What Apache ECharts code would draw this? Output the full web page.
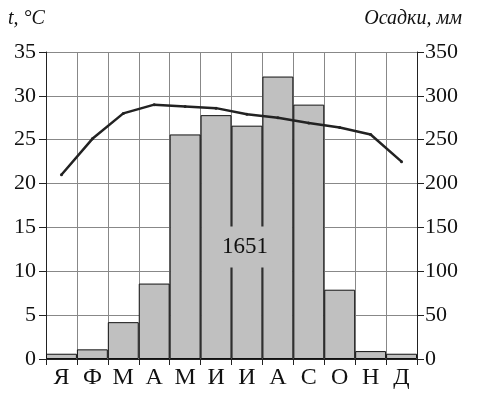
<!DOCTYPE html>
<html>
<head>
<meta charset="utf-8">
<script src="https://cdn.jsdelivr.net/npm/echarts@6/dist/echarts.min.js"></script>
<style>
html,body{margin:0;padding:0;background:#fff;}
#chart{width:478px;height:401px;}
</style>
</head>
<body>
<div id="chart"></div>
<script>
var months = ['Я','Ф','М','А','М','И','И','А','С','О','Н','Д'];
var temperature = [21.0, 25.1, 28.0, 29.0, 28.8, 28.6, 27.9, 27.5, 26.9, 26.4, 25.6, 22.5];
var precipitation = [6, 11, 42, 86, 256, 278, 266, 322, 290, 79, 9, 6];
var tempTitle = 't, °C';
var precTitle = 'Осадки, мм';
var total = precipitation.reduce(function(a,b){return a+b;},0);

var FONT = '"Liberation Serif", "Times New Roman", serif';
var chart = echarts.init(document.getElementById('chart'), null, {renderer:'canvas'});
chart.setOption({
  animation: false,
  backgroundColor: '#fff',
  grid: {left: 46, right: 61, top: 52, bottom: 42, containLabel: false},
  xAxis: {
    type: 'category',
    data: months,
    boundaryGap: true,
    axisLine: {show: true, lineStyle: {color: '#222', width: 1}},
    axisTick: {show: true, length: 6, interval: 0, lineStyle: {color: '#222'}},
    axisLabel: {interval: 0, color: '#111', fontFamily: FONT, fontSize: 24, margin: 7},
    splitLine: {show: true, interval: 0, lineStyle: {color: '#888', width: 1}}
  },
  yAxis: [{
    type: 'value', min: 0, max: 35, interval: 5, position: 'left',
    axisLine: {show: true, lineStyle: {color: '#222', width: 1}},
    axisTick: {show: true, length: 7, lineStyle: {color: '#222'}},
    axisLabel: {color: '#111', fontFamily: FONT, fontSize: 22, margin: 10},
    splitLine: {show: true, lineStyle: {color: '#888', width: 1}}
  }, {
    type: 'value', min: 0, max: 350, interval: 50, position: 'right',
    axisLine: {show: true, lineStyle: {color: '#222', width: 1}},
    axisTick: {show: true, length: 7, lineStyle: {color: '#222'}},
    axisLabel: {color: '#111', fontFamily: FONT, fontSize: 22, margin: 8},
    splitLine: {show: false}
  }],
  series: [{
    type: 'bar',
    yAxisIndex: 1,
    data: precipitation,
    barCategoryGap: '0%',
    itemStyle: {color: '#c0c0c0', borderColor: '#111', borderWidth: 1},
    z: 2
  }, {
    type: 'line',
    yAxisIndex: 0,
    data: temperature,
    symbol: 'circle',
    symbolSize: 3,
    lineStyle: {color: '#222', width: 2.5},
    itemStyle: {color: '#222'},
    z: 5
  }],
  graphic: [{
    type: 'text', left: 8, top: 9,
    style: {text: tempTitle, font: 'italic 20px ' + FONT, fill: '#111'}
  }, {
    type: 'text', right: 16, top: 9,
    style: {text: precTitle, font: 'italic 20px ' + FONT, fill: '#111'}
  }, {
    type: 'text', x: 245, y: 247, z: 10,
    style: {text: String(total), font: '23px ' + FONT, fill: '#111',
      align: 'center', verticalAlign: 'middle',
      backgroundColor: '#c0c0c0', padding: [9, 3]}
  }]
});
</script>
</body>
</html>
